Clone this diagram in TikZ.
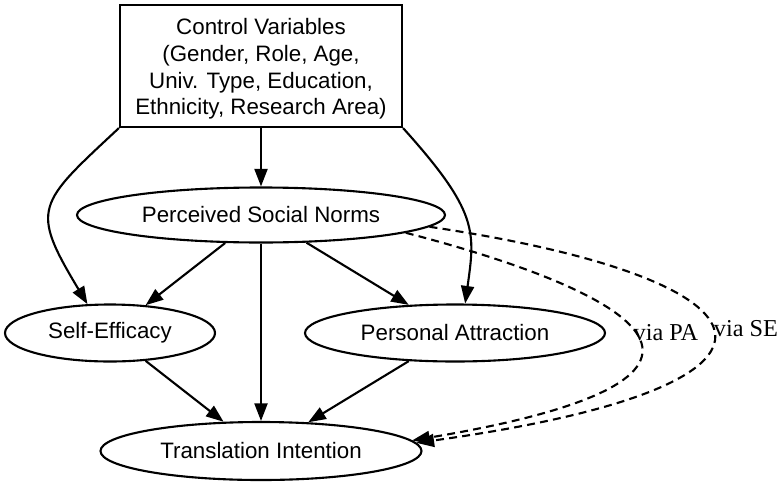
\documentclass[tikz,border=0pt]{standalone}
\usepackage{fontspec}
\setmainfont{Liberation Serif}
\setsansfont{Liberation Sans}
\usetikzlibrary{arrows.meta,positioning,shapes.geometric}

\begin{document}
\begin{tikzpicture}[
    box/.style={draw,line width=1.2pt,align=center,inner sep=0pt,font=\sffamily\fontsize{12.7}{15.2}\selectfont,minimum width=5.64cm,minimum height=2.44cm},
    oval/.style={draw,ellipse,line width=1.2pt,inner sep=0pt,font=\sffamily\fontsize{12.7}{15.6}\selectfont,minimum height=1.14cm},
    arr/.style={-{Triangle[length=10pt,width=7.4pt]},line width=1.2pt},
    via/.style={arr,dash pattern=on 4.5pt off 3pt},
    lbl/.style={font=\fontsize{13.8}{16}\selectfont,inner sep=0pt,anchor=west,yshift=0.08cm}
]
\useasboundingbox (0,0) rectangle (15.6,-9.76);
\node[box] (ctrl) at (5.22,-1.32) {\rule{0pt}{12.5pt}Control Variables\\(Gender, Role, Age,\\Univ. Type, Education,\\Ethnicity, Research Area)};
\node[oval,minimum width=7.36cm,minimum height=1.10cm] (norms) at (5.22,-4.30) {Perceived Social Norms};
\node[oval,minimum width=4.2cm] (selfeff) at (2.20,-6.66) {Self-Efficacy};
\node[oval,minimum width=6.0cm] (attract) at (9.10,-6.66) {Personal Attraction};
\node[oval,minimum width=6.42cm,minimum height=1.16cm] (intent) at (5.22,-9.02) {Translation Intention};
% controls
\draw[arr] (ctrl) -- (norms);
\draw[arr] (ctrl.south west) to[out=-137,in=121,looseness=1.6] (selfeff.128);
\draw[arr] (ctrl.south east) to[out=-48,in=82,out looseness=1.55,in looseness=1] (attract.71);
% direct paths
\draw[arr] (norms) -- (selfeff);
\draw[arr] (norms) -- (attract);
\draw[arr] (norms) -- (intent);
\draw[arr] (selfeff) -- (intent);
\draw[arr] (attract) -- (intent);
% indirect paths
\draw[via] (norms.-7) .. controls (12.9,-5.9) and (15.6,-7.58) .. (intent.4)
    node[lbl,pos=0.5,xshift=-0.08cm] (viapa) {via PA};
\draw[via] (norms.-4) .. controls (15.74,-5.6) and (16.64,-7.7) .. (intent.3)
    node[lbl,pos=0.5] (viase) {via SE};
\end{tikzpicture}
\end{document}
